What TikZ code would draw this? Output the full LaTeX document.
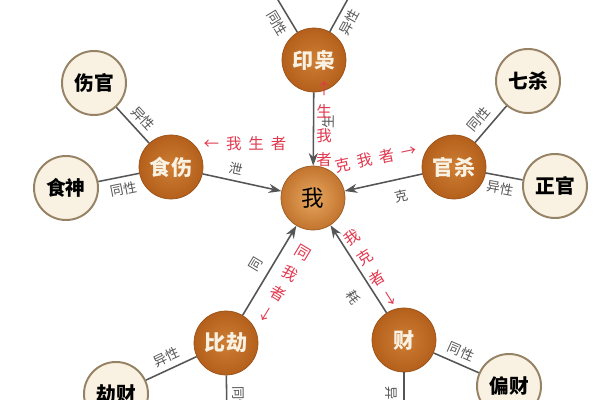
\documentclass[tikz,border=0pt]{standalone}
\usepackage{fontspec}
\setmainfont{Noto Sans CJK SC}
\newfontfamily\notefont[LetterSpace=45]{Noto Sans CJK SC}
\usepackage{xcolor}
\usepackage{tikz}
\usetikzlibrary{arrows.meta}

\definecolor{rust}{RGB}{180,96,28}
\definecolor{rustlight}{RGB}{206,126,52}
\definecolor{selfin}{RGB}{232,168,96}
\definecolor{selfout}{RGB}{194,116,46}
\definecolor{cream}{RGB}{249,241,226}
\definecolor{rim}{RGB}{150,130,100}
\definecolor{wiregrey}{RGB}{85,85,85}
\definecolor{notered}{RGB}{226,56,78}

\begin{document}
\begin{tikzpicture}[x=0.025cm,y=-0.025cm]
\useasboundingbox (0,0) rectangle (600,400);
\clip (0,0) rectangle (600,400);

\tikzset{>={Stealth[length=9pt,width=6.5pt]}}
\def\sz{1.6cm}
\tikzstyle{main} = [
	circle, draw=rust!85!black, line width=.5pt,
	inner color=rustlight, outer color=rust,
	minimum size=\sz, text=cream, font=\fontsize{15}{15}\selectfont\bfseries ];
\tikzstyle{core} = [main, inner color=selfin, outer color=selfout,
	draw=selfout!80!black, text=black, font=\fontsize{16}{16}\selectfont ];
\tikzstyle{side} = [
	circle, draw=rim, line width=1.4pt, fill=cream,
	minimum size=\sz, font=\fontsize{14}{14}\selectfont\bfseries ];
\tikzstyle{wire} = [draw=wiregrey, line width=1.1pt];
\tikzstyle{tag} = [text=wiregrey, inner sep=1pt, font=\fontsize{9.5}{9.5}\selectfont];
\tikzstyle{note} = [text=notered, align=center, inner sep=0pt, font=\fontsize{11}{17}\selectfont];
\tikzstyle{spaced} = [font=\notefont\fontsize{11}{17}\selectfont];

% the six groups round me
\node[main] (yx) at (314,60) {印枭};
\node[core] (wo) at (313,198) {我};
\node[main] (ss) at (171,167) {食伤};
\node[main] (gs) at (454,167) {官杀};
\node[main] (bj) at (226,343) {比劫};
\node[main] (cai) at (404,340) {财};

\node[side] (sg) at (94,83) {伤官};
\node[side] (sj) at (66,188) {食神};
\node[side] (qs) at (528,81) {七杀};
\node[side] (zg) at (555,186) {正官};
\node[side] (jc) at (116,394) {劫财};
\node[side] (pc) at (509,386) {偏财};

\coordinate (yxl) at (260,-30);
\coordinate (yxr) at (364,-30);
\coordinate (bjd) at (227,430);
\coordinate (caid) at (404,430);

\draw[wire] (yx) -- (yxl) node[tag, pos=.25, sloped, below=3pt] (yxltag) {同性};
\draw[wire] (yx) -- (yxr) node[tag, pos=.25, sloped, below=3pt] (yxrtag) {异性};
\draw[wire] (sg) -- (ss) node[tag, pos=.55, sloped, above=3pt] (sgtag) {异性};
\draw[wire] (sj) -- (ss) node[tag, pos=.55, sloped, below=3pt] (sjtag) {同性};
\draw[wire] (gs) -- (qs) node[tag, pos=.42, sloped, above=3pt] (qstag) {同性};
\draw[wire] (gs) -- (zg) node[tag, pos=.45, sloped, below=3pt] (zgtag) {异性};
\draw[wire] (jc) -- (bj) node[tag, pos=.5, sloped, above=3pt] (jctag) {异性};
\draw[wire] (cai) -- (pc) node[tag, pos=.5, sloped, above=3pt] (pctag) {同性};
\draw[wire] (bj) -- (bjd) node[tag, pos=.45, sloped, above=3pt] (bjdtag) {同性};
\draw[wire] (cai) -- (caid) node[tag, pos=.48, sloped, below=3pt] (caidtag) {异性};

% arrows into me
\draw[wire,->] (yx) -- (wo) node[tag, pos=.4, sloped, below=5pt] (yxtag) {生};
\draw[wire,->] (ss) -- (wo) node[tag, pos=.39, sloped, above=3pt] (sstag) {泄};
\draw[wire,->] (gs) -- (wo) node[tag, pos=.32, sloped, below=6pt] (gstag) {克};
\draw[wire,->] (bj) -- (wo) node[tag, pos=.48, sloped, above=5pt] (bjtag) {同};
\draw[wire,->] (cai) -- (wo) node[tag, pos=.3, sloped, below=8pt] (caitag) {耗};

\node[note] (yxnote) at (324,124) {↑\\生\\我\\者};
\node[note, spaced] (ssnote) at (245,144) {←我生者};
\node[note, spaced, rotate=12] (gsnote) at (376,158) {克我者→};
\node[note, rotate=-31] (bjnote) at (284,284) {同\\我\\者\\↓};
\node[note, rotate=32] (cainote) at (371,268) {我\\克\\者\\↓};

\end{tikzpicture}
\end{document}
